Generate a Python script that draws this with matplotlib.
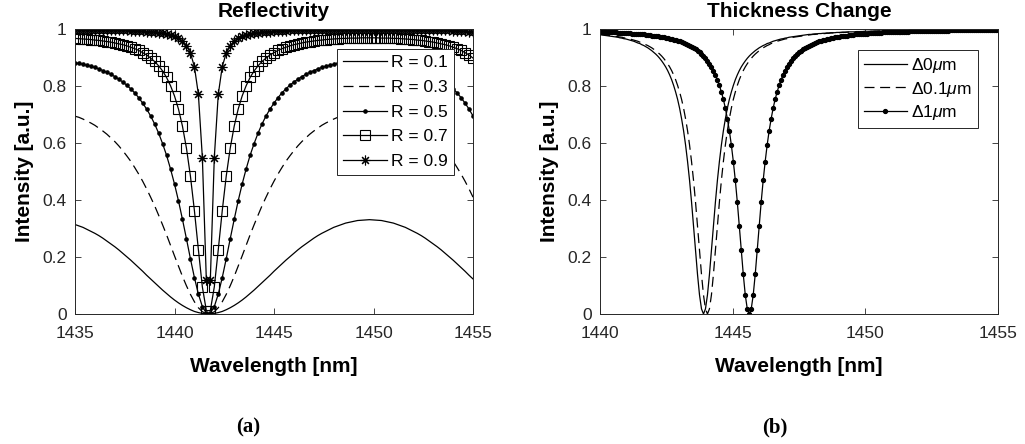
import numpy as np
import matplotlib
matplotlib.use("Agg")
import matplotlib.pyplot as plt

plt.rcParams['font.family'] = ['Liberation Sans', 'DejaVu Sans']
plt.rcParams['mathtext.fontset'] = 'custom'
plt.rcParams['mathtext.rm'] = 'Liberation Sans'
plt.rcParams['mathtext.it'] = 'Liberation Sans:italic'

AX_COLOR = '#262626'

# ---------------- (a) Reflectivity : 1435 .. 1455 nm, step 0.2 nm ----------------
WL_A = (1435, 1455, 101)
XTICKS_A = [1435, 1440, 1445, 1450, 1455]

R_LABELS = ['R = 0.1', 'R = 0.3', 'R = 0.5', 'R = 0.7', 'R = 0.9']

R01 = [0.314, 0.309, 0.304, 0.297, 0.290, 0.283, 0.275, 0.266, 0.256, 0.246,
       0.236, 0.225, 0.213, 0.201, 0.189, 0.176, 0.163, 0.150, 0.136, 0.123,
       0.110, 0.097, 0.084, 0.072, 0.060, 0.049, 0.039, 0.030, 0.022, 0.015,
       0.009, 0.005, 0.002, 0.000,
       0.000, 0.002, 0.005, 0.009, 0.015, 0.022, 0.030, 0.039, 0.049, 0.060,
       0.072, 0.084, 0.097, 0.110, 0.123, 0.136, 0.150, 0.163, 0.176, 0.189,
       0.201, 0.213, 0.225, 0.236, 0.246, 0.256, 0.266, 0.275, 0.283, 0.290,
       0.297, 0.304, 0.309, 0.314, 0.319, 0.322, 0.325, 0.328, 0.329, 0.330,
       0.331,
       0.330, 0.329, 0.328, 0.325, 0.322, 0.319, 0.314, 0.309, 0.304, 0.297,
       0.290, 0.283, 0.275, 0.266, 0.256, 0.246, 0.236, 0.225, 0.213, 0.201,
       0.189, 0.176, 0.163, 0.150, 0.136, 0.123]

R03 = [0.694, 0.690, 0.684, 0.677, 0.670, 0.662, 0.652, 0.642, 0.631, 0.618,
       0.605, 0.590, 0.573, 0.555, 0.536, 0.514, 0.491, 0.466, 0.439, 0.410,
       0.380, 0.347, 0.313, 0.278, 0.241, 0.204, 0.168, 0.132, 0.099, 0.069,
       0.043, 0.022, 0.008, 0.001,
       0.001, 0.008, 0.022, 0.043, 0.069, 0.099, 0.132, 0.168, 0.204, 0.241,
       0.278, 0.313, 0.347, 0.380, 0.410, 0.439, 0.466, 0.491, 0.514, 0.536,
       0.555, 0.573, 0.590, 0.605, 0.618, 0.631, 0.642, 0.652, 0.662, 0.670,
       0.677, 0.684, 0.690, 0.694, 0.699, 0.702, 0.705, 0.707, 0.709, 0.710,
       0.710,
       0.710, 0.709, 0.707, 0.705, 0.702, 0.699, 0.694, 0.690, 0.684, 0.677,
       0.670, 0.662, 0.652, 0.642, 0.631, 0.618, 0.605, 0.590, 0.573, 0.555,
       0.536, 0.514, 0.491, 0.466, 0.439, 0.410]

R05 = [0.881, 0.879, 0.876, 0.873, 0.869, 0.865, 0.860, 0.854, 0.848, 0.841,
       0.833, 0.824, 0.814, 0.803, 0.790, 0.776, 0.759, 0.740, 0.719, 0.695,
       0.667, 0.635, 0.598, 0.557, 0.509, 0.456, 0.397, 0.332, 0.264, 0.194,
       0.128, 0.070, 0.026, 0.003,
       0.003, 0.026, 0.070, 0.128, 0.194, 0.264, 0.332, 0.397, 0.456, 0.509,
       0.557, 0.598, 0.635, 0.667, 0.695, 0.719, 0.740, 0.759, 0.776, 0.790,
       0.803, 0.814, 0.824, 0.833, 0.841, 0.848, 0.854, 0.860, 0.865, 0.869,
       0.873, 0.876, 0.879, 0.881, 0.883, 0.885, 0.886, 0.888, 0.888, 0.889,
       0.889,
       0.889, 0.888, 0.888, 0.886, 0.885, 0.883, 0.881, 0.879, 0.876, 0.873,
       0.869, 0.865, 0.860, 0.854, 0.848, 0.841, 0.833, 0.824, 0.814, 0.803,
       0.790, 0.776, 0.759, 0.740, 0.719, 0.695]

R07 = [0.967, 0.966, 0.965, 0.964, 0.963, 0.961, 0.960, 0.958, 0.956, 0.954,
       0.951, 0.948, 0.945, 0.941, 0.936, 0.931, 0.925, 0.917, 0.909, 0.898,
       0.886, 0.871, 0.853, 0.830, 0.801, 0.765, 0.719, 0.659, 0.582, 0.484,
       0.363, 0.226, 0.095, 0.012,
       0.012, 0.095, 0.226, 0.363, 0.484, 0.582, 0.659, 0.719, 0.765, 0.801,
       0.830, 0.853, 0.871, 0.886, 0.898, 0.909, 0.917, 0.925, 0.931, 0.936,
       0.941, 0.945, 0.948, 0.951, 0.954, 0.956, 0.958, 0.960, 0.961, 0.963,
       0.964, 0.965, 0.966, 0.967, 0.967, 0.968, 0.968, 0.968, 0.969, 0.969,
       0.969,
       0.969, 0.969, 0.968, 0.968, 0.968, 0.967, 0.967, 0.966, 0.965, 0.964,
       0.963, 0.961, 0.960, 0.958, 0.956, 0.954, 0.951, 0.948, 0.945, 0.941,
       0.936, 0.931, 0.925, 0.917, 0.909, 0.898]

R09 = [0.997, 0.997, 0.997, 0.997, 0.997, 0.997, 0.996, 0.996, 0.996, 0.996,
       0.996, 0.995, 0.995, 0.995, 0.994, 0.994, 0.993, 0.992, 0.991, 0.990,
       0.989, 0.987, 0.985, 0.983, 0.979, 0.974, 0.967, 0.957, 0.942, 0.916,
       0.868, 0.771, 0.549, 0.119,
       0.119, 0.549, 0.771, 0.868, 0.916, 0.942, 0.957, 0.967, 0.974, 0.979,
       0.983, 0.985, 0.987, 0.989, 0.990, 0.991, 0.992, 0.993, 0.994, 0.994,
       0.995, 0.995, 0.995, 0.996, 0.996, 0.996, 0.996, 0.996, 0.997, 0.997,
       0.997, 0.997, 0.997, 0.997, 0.997, 0.997, 0.997, 0.997, 0.997, 0.997,
       0.997,
       0.997, 0.997, 0.997, 0.997, 0.997, 0.997, 0.997, 0.997, 0.997, 0.997,
       0.997, 0.997, 0.996, 0.996, 0.996, 0.996, 0.996, 0.995, 0.995, 0.995,
       0.994, 0.994, 0.993, 0.992, 0.991, 0.990]

# ---------------- (b) Thickness Change : 1440 .. 1455 nm, step 0.075 nm ----------------
WL_B = (1440, 1455, 201)
XTICKS_B = [1440, 1445, 1450, 1455]

D_LABELS = [r'$\Delta$0$\mu$m', r'$\Delta$0.1$\mu$m', r'$\Delta$1$\mu$m']

D0 = [0.980, 0.979, 0.978, 0.977, 0.976, 0.975, 0.974, 0.973, 0.972, 0.971,
      0.969, 0.968, 0.966, 0.965, 0.963, 0.961, 0.959, 0.957, 0.954, 0.951,
      0.949, 0.945, 0.942, 0.938, 0.934, 0.929, 0.924, 0.918, 0.912, 0.905,
      0.897, 0.888, 0.878, 0.867, 0.854, 0.839, 0.822, 0.802, 0.779, 0.753,
      0.722, 0.685, 0.643, 0.593, 0.535, 0.469, 0.393, 0.310, 0.224, 0.139,
      0.067, 0.018, 0.000,
      0.018, 0.067, 0.139, 0.224, 0.310, 0.393, 0.469, 0.535, 0.593, 0.643,
      0.685, 0.722, 0.753, 0.779, 0.802, 0.822, 0.839, 0.854, 0.867, 0.878,
      0.888, 0.897, 0.905, 0.912, 0.918, 0.924, 0.929, 0.934, 0.938, 0.942,
      0.945, 0.949, 0.951, 0.954, 0.957, 0.959, 0.961, 0.963, 0.965, 0.966,
      0.968, 0.969, 0.971, 0.972, 0.973, 0.974, 0.975, 0.976, 0.977, 0.978,
      0.979, 0.980, 0.981, 0.981, 0.982, 0.983, 0.983, 0.984, 0.984, 0.985,
      0.985, 0.986, 0.986, 0.987, 0.987, 0.987, 0.988, 0.988, 0.988, 0.989,
      0.989, 0.989, 0.990, 0.990, 0.990, 0.990, 0.991, 0.991, 0.991, 0.991,
      0.992, 0.992, 0.992, 0.992, 0.992, 0.993, 0.993, 0.993, 0.993, 0.993,
      0.993, 0.993, 0.994, 0.994, 0.994, 0.994, 0.994, 0.994, 0.994, 0.994,
      0.995, 0.995, 0.995, 0.995, 0.995, 0.995, 0.995, 0.995, 0.995, 0.995,
      0.996, 0.996, 0.996, 0.996, 0.996, 0.996, 0.996, 0.996, 0.996, 0.996,
      0.996, 0.996, 0.996, 0.996, 0.996, 0.997, 0.997, 0.997, 0.997, 0.997,
      0.997, 0.997, 0.997, 0.997, 0.997, 0.997, 0.997, 0.997, 0.997, 0.997,
      0.997, 0.997, 0.997, 0.997, 0.997, 0.997, 0.997, 0.997]

D01 = [0.981, 0.981, 0.980, 0.979, 0.978, 0.977, 0.976, 0.975, 0.974, 0.973,
       0.972, 0.971, 0.969, 0.968, 0.966, 0.965, 0.963, 0.961, 0.959, 0.957,
       0.954, 0.951, 0.949, 0.945, 0.942, 0.938, 0.934, 0.929, 0.924, 0.918,
       0.912, 0.905, 0.897, 0.888, 0.878, 0.867, 0.854, 0.839, 0.822, 0.802,
       0.779, 0.753, 0.722, 0.685, 0.643, 0.593, 0.535, 0.469, 0.393, 0.310,
       0.224, 0.139, 0.067, 0.018, 0.000,
       0.018, 0.067, 0.139, 0.224, 0.310, 0.393, 0.469, 0.535, 0.593, 0.643,
       0.685, 0.722, 0.753, 0.779, 0.802, 0.822, 0.839, 0.854, 0.867, 0.878,
       0.888, 0.897, 0.905, 0.912, 0.918, 0.924, 0.929, 0.934, 0.938, 0.942,
       0.945, 0.949, 0.951, 0.954, 0.957, 0.959, 0.961, 0.963, 0.965, 0.966,
       0.968, 0.969, 0.971, 0.972, 0.973, 0.974, 0.975, 0.976, 0.977, 0.978,
       0.979, 0.980, 0.981, 0.981, 0.982, 0.983, 0.983, 0.984, 0.984, 0.985,
       0.985, 0.986, 0.986, 0.987, 0.987, 0.987, 0.988, 0.988, 0.988, 0.989,
       0.989, 0.989, 0.990, 0.990, 0.990, 0.990, 0.991, 0.991, 0.991, 0.991,
       0.992, 0.992, 0.992, 0.992, 0.992, 0.993, 0.993, 0.993, 0.993, 0.993,
       0.993, 0.993, 0.994, 0.994, 0.994, 0.994, 0.994, 0.994, 0.994, 0.994,
       0.995, 0.995, 0.995, 0.995, 0.995, 0.995, 0.995, 0.995, 0.995, 0.995,
       0.996, 0.996, 0.996, 0.996, 0.996, 0.996, 0.996, 0.996, 0.996, 0.996,
       0.996, 0.996, 0.996, 0.996, 0.996, 0.997, 0.997, 0.997, 0.997, 0.997,
       0.997, 0.997, 0.997, 0.997, 0.997, 0.997, 0.997, 0.997, 0.997, 0.997,
       0.997, 0.997, 0.997, 0.997, 0.997, 0.997]

D1 = [0.990, 0.990, 0.990, 0.989, 0.989, 0.989, 0.988, 0.988, 0.988, 0.987,
      0.987, 0.987, 0.986, 0.986, 0.985, 0.985, 0.984, 0.984, 0.983, 0.983,
      0.982, 0.981, 0.981, 0.980, 0.979, 0.978, 0.977, 0.976, 0.975, 0.974,
      0.973, 0.972, 0.971, 0.969, 0.968, 0.966, 0.965, 0.963, 0.961, 0.959,
      0.957, 0.954, 0.951, 0.949, 0.945, 0.942, 0.938, 0.934, 0.929, 0.924,
      0.918, 0.912, 0.905, 0.897, 0.888, 0.878, 0.867, 0.854, 0.839, 0.822,
      0.802, 0.779, 0.753, 0.722, 0.685, 0.643, 0.593, 0.535, 0.469, 0.393,
      0.310, 0.224, 0.139, 0.067, 0.018, 0.000,
      0.018, 0.067, 0.139, 0.224, 0.310, 0.393, 0.469, 0.535, 0.593, 0.643,
      0.685, 0.722, 0.753, 0.779, 0.802, 0.822, 0.839, 0.854, 0.867, 0.878,
      0.888, 0.897, 0.905, 0.912, 0.918, 0.924, 0.929, 0.934, 0.938, 0.942,
      0.945, 0.949, 0.951, 0.954, 0.957, 0.959, 0.961, 0.963, 0.965, 0.966,
      0.968, 0.969, 0.971, 0.972, 0.973, 0.974, 0.975, 0.976, 0.977, 0.978,
      0.979, 0.980, 0.981, 0.981, 0.982, 0.983, 0.983, 0.984, 0.984, 0.985,
      0.985, 0.986, 0.986, 0.987, 0.987, 0.987, 0.988, 0.988, 0.988, 0.989,
      0.989, 0.989, 0.990, 0.990, 0.990, 0.990, 0.991, 0.991, 0.991, 0.991,
      0.992, 0.992, 0.992, 0.992, 0.992, 0.993, 0.993, 0.993, 0.993, 0.993,
      0.993, 0.993, 0.994, 0.994, 0.994, 0.994, 0.994, 0.994, 0.994, 0.994,
      0.995, 0.995, 0.995, 0.995, 0.995, 0.995, 0.995, 0.995, 0.995, 0.995,
      0.996, 0.996, 0.996, 0.996, 0.996, 0.996, 0.996, 0.996, 0.996, 0.996,
      0.996, 0.996, 0.996, 0.996, 0.996]

YTICKS = [0, 0.2, 0.4, 0.6, 0.8, 1]
YTICK_LABELS = ['0', '0.2', '0.4', '0.6', '0.8', '1']


def style_axes(ax, xticks, title):
    ax.set_xlim(xticks[0], xticks[-1])
    ax.set_ylim(0, 1)
    ax.set_xticks(xticks)
    ax.set_xticklabels([str(t) for t in xticks])
    ax.set_yticks(YTICKS)
    ax.set_yticklabels(YTICK_LABELS)
    ax.tick_params(direction='in', top=True, right=True, length=4, width=0.6,
                   colors=AX_COLOR, labelsize=12.5)
    ax.tick_params(axis='x', pad=9)
    ax.tick_params(axis='y', pad=6)
    for sp in ax.spines.values():
        sp.set_linewidth(0.7)
        sp.set_color(AX_COLOR)
    ax.set_title(title, fontsize=15, fontweight='bold', pad=9)
    ax.set_xlabel('Wavelength [nm]', fontsize=15, fontweight='bold', labelpad=11)
    ax.set_ylabel('Intensity [a.u.]', fontsize=15, fontweight='bold', labelpad=6)


def add_legend(ax, anchor, spacing):
    leg = ax.legend(loc='upper right', bbox_to_anchor=anchor, borderaxespad=0,
                    fontsize=12.5, frameon=True, fancybox=False, framealpha=1,
                    edgecolor=AX_COLOR, handlelength=2.5, handletextpad=0.25,
                    labelspacing=spacing, borderpad=0.35)
    leg.get_frame().set_linewidth(0.7)


fig = plt.figure(figsize=(10.25, 4.44), dpi=100)
ax1 = fig.add_axes([75 / 1025, 130 / 444, 398 / 1025, 285 / 444])
ax2 = fig.add_axes([600 / 1025, 130 / 444, 398 / 1025, 285 / 444])

dash = (0, (8, 4.5))
lw = 0.9

# (a)
xa = np.linspace(*WL_A)
ax1.plot(xa, R01, color='k', lw=lw, label=R_LABELS[0])
ax1.plot(xa, R03, color='k', lw=lw, ls=dash, label=R_LABELS[1])
ax1.plot(xa, R05, color='k', lw=lw, marker='o', ms=2.3, label=R_LABELS[2])
ax1.plot(xa, R07, color='k', lw=lw, marker='s', ms=6.5, mfc='none', mew=0.8,
         label=R_LABELS[3])
ax1.plot(xa, R09, color='k', lw=lw, marker=(8, 2, 0), ms=7, mew=0.8,
         label=R_LABELS[4])
style_axes(ax1, XTICKS_A, 'Reflectivity')
add_legend(ax1, (0.952, 0.93), 0.55)

# (b)
xb = np.linspace(*WL_B)
ax2.plot(xb, D0, color='k', lw=lw, label=D_LABELS[0])
ax2.plot(xb, D01, color='k', lw=lw, ls=dash, label=D_LABELS[1])
ax2.plot(xb, D1, color='k', lw=lw, marker='o', ms=2.8, label=D_LABELS[2])
style_axes(ax2, XTICKS_B, 'Thickness Change')
add_legend(ax2, (0.95, 0.926), 0.25)

fig.text(248 / 1025, 1 - 427 / 444, '(a)', family='Liberation Serif',
         fontweight='bold', fontsize=15, ha='center', va='center')
fig.text(775 / 1025, 1 - 427 / 444, '(b)', family='Liberation Serif',
         fontweight='bold', fontsize=15, ha='center', va='center')

fig.savefig('out.png', dpi=100)
